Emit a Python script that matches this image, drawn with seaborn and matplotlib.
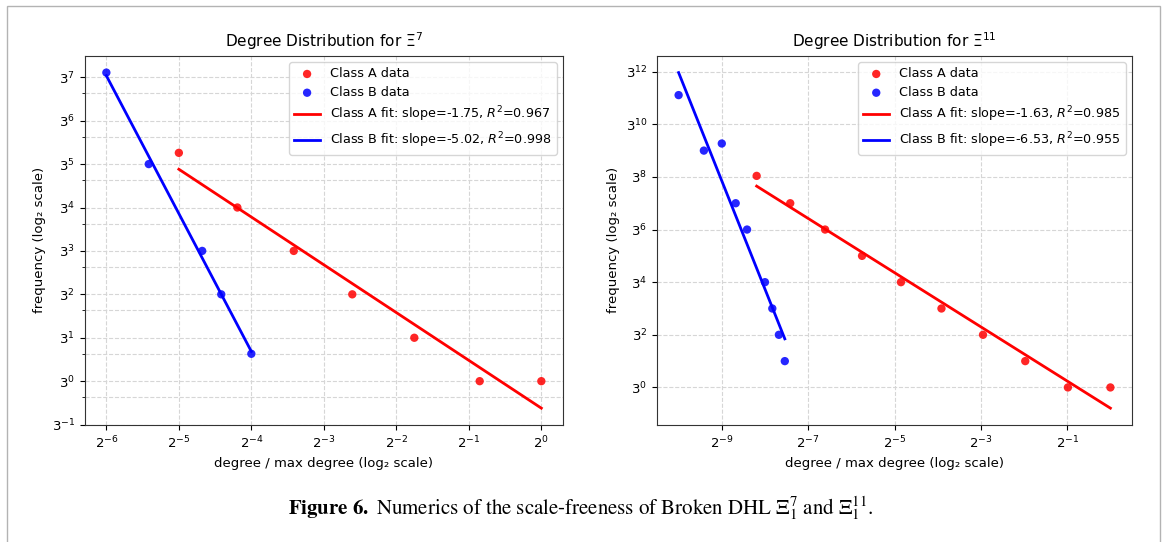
import numpy as np
import pandas as pd
import matplotlib
matplotlib.use("Agg")
import matplotlib.pyplot as plt
from matplotlib.patches import Rectangle
from matplotlib.ticker import LogLocator, NullLocator, FixedLocator
import seaborn as sns

# degree distributions
# left panel: Xi^7, max degree 128
xi7_max_degree = 128
xi7_a_degree = [4, 7, 12, 21, 38, 71, 128]
xi7_a_freq = [323, 81, 27, 9, 3, 1, 1]
xi7_b_degree = [2, 3, 5, 6, 8]
xi7_b_freq = [2460, 243, 27, 9, 2]
xi7_a_label = "Class A fit: slope=-1.75, $R^2$=0.967"
xi7_b_label = "Class B fit: slope=-5.02, $R^2$=0.998"

# right panel: Xi^11, max degree 2048
xi11_max_degree = 2048
xi11_a_degree = [7, 12, 21, 38, 71, 136, 265, 522, 1035, 2048]
xi11_a_freq = [6850, 2187, 729, 243, 81, 27, 9, 3, 1, 1]
xi11_b_degree = [2, 3, 4, 5, 6, 8, 9, 10, 11]
xi11_b_freq = [199600, 19683, 26470, 2187, 729, 81, 27, 9, 3]
xi11_a_label = "Class A fit: slope=-1.63, $R^2$=0.985"
xi11_b_label = "Class B fit: slope=-6.53, $R^2$=0.955"

caption = (r"$\mathbf{Figure}$ $\mathbf{6.}$ Numerics of the scale-freeness of Broken DHL "
           r"$\Xi_1^7$ and $\Xi_1^{11}$.")


def fit_line(x, y):
    """Least squares fit in log2-log2 space, returned as a two point frame."""
    lx, ly = np.log2(x), np.log2(y)
    slope, icpt = np.polyfit(lx, ly, 1)
    ends = np.array([lx.min(), lx.max()])
    return pd.DataFrame({"x": 2.0 ** ends, "y": 2.0 ** (slope * ends + icpt)})


def plot_panel(ax, max_degree, a_deg, a_freq, b_deg, b_freq, a_lab, b_lab, title):
    ax.set_xscale("log", base=2)
    ax.set_yscale("log", base=3)
    a = pd.DataFrame({"x": np.array(a_deg) / max_degree, "y": np.array(a_freq, dtype=float)})
    b = pd.DataFrame({"x": np.array(b_deg) / max_degree, "y": np.array(b_freq, dtype=float)})

    sns.scatterplot(data=a, x="x", y="y", ax=ax, color="red", s=36, alpha=0.85,
                    edgecolor="none", label="Class A data", zorder=3)
    sns.scatterplot(data=b, x="x", y="y", ax=ax, color="blue", s=36, alpha=0.85,
                    edgecolor="none", label="Class B data", zorder=3)
    sns.lineplot(data=fit_line(a["x"], a["y"]), x="x", y="y", ax=ax, color="red",
                 lw=2, label=a_lab, zorder=4)
    sns.lineplot(data=fit_line(b["x"], b["y"]), x="x", y="y", ax=ax, color="blue",
                 lw=2, label=b_lab, zorder=4)

    ax.set_title(title, fontsize=11)
    ax.set_xlabel("degree / max degree (log\u2082 scale)", fontsize=9.5)
    ax.set_ylabel("frequency (log\u2082 scale)", fontsize=9.5)
    ax.tick_params(labelsize=9.5)
    ax.legend(loc="upper right", fontsize=9.2, framealpha=0.8, labelspacing=0.45)
    ax.grid(True, which="both", linestyle="--", color="0.84", lw=0.8)
    ax.set_axisbelow(True)
    for sp in ax.spines.values():
        sp.set_color("0.2")


fig = plt.figure(figsize=(11.67, 5.42), dpi=100)
ax1 = fig.add_axes([0.0725, 0.216, 0.410, 0.681])
ax2 = fig.add_axes([0.563, 0.216, 0.407, 0.681])

plot_panel(ax1, xi7_max_degree, xi7_a_degree, xi7_a_freq, xi7_b_degree, xi7_b_freq,
           xi7_a_label, xi7_b_label, r"Degree Distribution for $\Xi^{7}$")
plot_panel(ax2, xi11_max_degree, xi11_a_degree, xi11_a_freq, xi11_b_degree, xi11_b_freq,
           xi11_a_label, xi11_b_label, r"Degree Distribution for $\Xi^{11}$")

# tick layout as in the original
ax1.xaxis.set_major_locator(LogLocator(base=2, numticks=20))
ax1.xaxis.set_minor_locator(NullLocator())
ax1.yaxis.set_major_locator(LogLocator(base=3, numticks=20))
ax1.yaxis.set_minor_locator(LogLocator(base=3, subs=(2.0,), numticks=20))
ax2.xaxis.set_major_locator(FixedLocator(2.0 ** np.arange(-9, 0, 2)))
ax2.xaxis.set_minor_locator(NullLocator())
ax2.yaxis.set_major_locator(FixedLocator(3.0 ** np.arange(0, 13, 2)))
ax2.yaxis.set_minor_locator(NullLocator())

# page frame and caption
fig.patches.append(Rectangle((0.006, -0.02), 0.988, 1.009, transform=fig.transFigure,
                             fill=False, edgecolor="0.7", lw=1))
fig.text(0.4975, 0.062, caption, ha="center", va="center", fontsize=15,
         family="STIXGeneral", math_fontfamily="stix")

fig.savefig("out.png", dpi=100)
